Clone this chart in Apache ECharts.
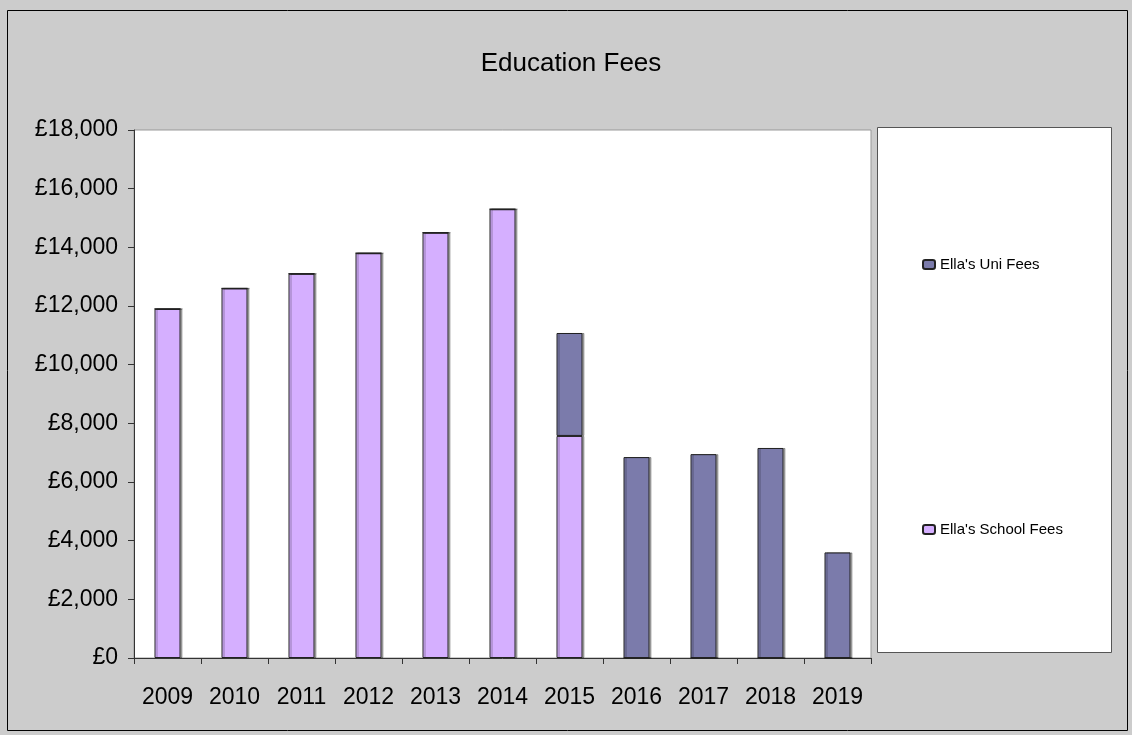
<!DOCTYPE html>
<html>
<head>
<meta charset="utf-8">
<script src="https://cdn.jsdelivr.net/npm/echarts@6/dist/echarts.min.js"></script>
<style>
  html, body { margin: 0; padding: 0; background: #fff; }
  #chart { width: 1132px; height: 735px; }
</style>
</head>
<body>
<div id="chart"></div>
<script>
var years = ['2009', '2010', '2011', '2012', '2013', '2014', '2015', '2016', '2017', '2018', '2019'];
var schoolFees = [11900, 12600, 13100, 13800, 14500, 15300, 7570, 0, 0, 0, 0];
var uniFees = [0, 0, 0, 0, 0, 0, 3510, 6850, 6950, 7160, 3600];

var chart = echarts.init(document.getElementById('chart'));

function barStyle(color) {
  return {
    color: color,
    borderColor: '#222',
    borderWidth: 1,
    shadowColor: 'rgba(0,0,0,0.3)',
    shadowOffsetX: 2,
    shadowOffsetY: 0,
    shadowBlur: 0
  };
}

var legendText = { fontFamily: 'Liberation Sans', fontSize: 15, color: '#000' };

var option = {
  backgroundColor: '#cccccc',
  animation: false,
  graphic: [{
    type: 'rect',
    shape: { x: 7.5, y: 10.5, width: 1120, height: 720 },
    style: { fill: 'none', stroke: '#000', lineWidth: 1 },
    silent: true
  }, {
    type: 'rect',
    shape: { x: 877.5, y: 127.5, width: 234, height: 525 },
    style: { fill: '#fff', stroke: '#555', lineWidth: 1 },
    z: -1,
    silent: true
  }],
  title: {
    text: 'Education Fees',
    left: 566,
    textAlign: 'center',
    top: 46,
    textStyle: { fontFamily: 'Liberation Sans', fontWeight: 'normal', fontSize: 26, color: '#000' }
  },
  legend: [{
    data: ['Ella\'s Uni Fees'],
    left: 917,
    top: 252,
    itemWidth: 12,
    itemHeight: 9,
    itemGap: 6,
    textStyle: legendText
  }, {
    data: ['Ella\'s School Fees'],
    left: 917,
    top: 517,
    itemWidth: 12,
    itemHeight: 9,
    textStyle: legendText
  }],
  grid: {
    left: 134,
    top: 130,
    width: 737,
    height: 528,
    show: true,
    backgroundColor: '#fff',
    borderColor: '#999',
    borderWidth: 1
  },
  xAxis: {
    type: 'category',
    data: years,
    axisLine: { lineStyle: { color: '#333', width: 1 } },
    axisTick: { show: true, alignWithLabel: false, length: 6, lineStyle: { color: '#333' } },
    axisLabel: { fontFamily: 'Liberation Sans', fontSize: 23, color: '#000', margin: 28 }
  },
  yAxis: {
    type: 'value',
    min: 0,
    max: 18000,
    interval: 2000,
    axisLine: { show: true, lineStyle: { color: '#333', width: 1 } },
    axisTick: { show: true, length: 6, lineStyle: { color: '#333' } },
    splitLine: { show: false },
    axisLabel: {
      fontFamily: 'Liberation Sans',
      fontSize: 23,
      color: '#000',
      margin: 16,
      formatter: function (v) { return '£' + v.toLocaleString('en-GB'); }
    }
  },
  series: [{
    name: 'Ella\'s School Fees',
    type: 'bar',
    stack: 'fees',
    barWidth: 26,
    data: schoolFees,
    itemStyle: barStyle('#d5afff')
  }, {
    name: 'Ella\'s Uni Fees',
    type: 'bar',
    stack: 'fees',
    barWidth: 26,
    data: uniFees,
    itemStyle: barStyle('#7b7bab')
  }]
};

chart.setOption(option);
</script>
</body>
</html>
